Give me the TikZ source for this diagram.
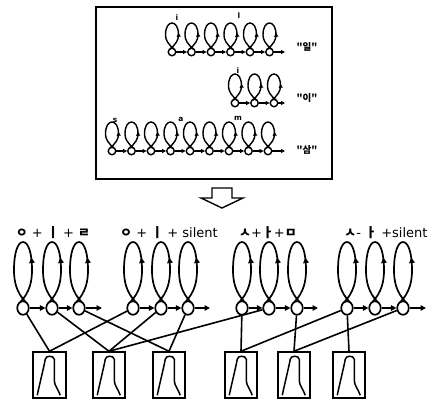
\documentclass[tikz,border=0pt]{standalone}
\usepackage{fontspec}
\setmainfont{DejaVu Sans}
\newfontfamily\kr{Noto Sans CJK KR}
\usetikzlibrary{arrows.meta,decorations.markings,shapes.geometric,calc}
\begin{document}
\begin{tikzpicture}[x=1pt,y=-1pt,
  ts/.style={draw, circle, minimum size=7.5pt, inner sep=0pt, line width=1.4pt},
  bs/.style={draw, ellipse, minimum width=11.5pt, minimum height=13.5pt, inner sep=0pt, line width=1.7pt},
  tarr/.style={line width=1.4pt, -{Triangle[length=4pt,width=4pt]}},
  barr/.style={line width=1.7pt, -{Triangle[length=5.5pt,width=5.5pt]}},
  tloop/.style={line width=1.4pt, postaction={decorate},
    decoration={markings, mark=at position 0.3 with {\arrow{Triangle[length=4pt,width=4pt]}}}},
  bloop/.style={line width=1.7pt, postaction={decorate},
    decoration={markings, mark=at position 0.36 with {\arrow{Triangle[length=5.5pt,width=5.5pt]}}}},
  wbox/.style={draw, line width=1.5pt, minimum height=46pt, inner sep=0pt},
  conn/.style={line width=1.6pt},
  tlab/.style={font=\kr\bfseries\fontsize{9.5}{10}\selectfont, inner sep=0pt},
  llab/.style={font=\bfseries\fontsize{7.5}{8}\selectfont, inner sep=0pt},
  glab/.style={font=\fontsize{13}{15}\selectfont, inner sep=0pt}
]
\useasboundingbox (0,0) rectangle (437,402);
\fill[white] (0,0) rectangle (437,402);

% top box
\node[draw, line width=1.4pt, minimum width=236pt, minimum height=172pt, inner sep=0pt] (topbox) at (214,93) {};

% top rows
\foreach \row/\n/\xo/\yy in {1/6/172/52, 2/3/235/103, 3/9/112/151} {
  \foreach \i in {1,...,\n} {
    \pgfmathsetmacro\cx{\xo+(\i-1)*19.5}
    \node[ts] (r\row s\i) at (\cx,\yy) {};
    \draw[tloop] (\cx-2,\yy-3) .. controls (\cx+4,\yy-8) and (\cx+6.5,\yy-12) .. (\cx+6.5,\yy-17)
      .. controls (\cx+6.5,\yy-25) and (\cx+3.5,\yy-29) .. (\cx,\yy-29)
      .. controls (\cx-3.5,\yy-29) and (\cx-6.5,\yy-25) .. (\cx-6.5,\yy-17)
      .. controls (\cx-6.5,\yy-12) and (\cx-4,\yy-8) .. (\cx+2,\yy-3);
  }
  \coordinate (r\row e) at (285,\yy);
}
\foreach \i [evaluate=\i as \j using int(\i+1)] in {1,...,5} \draw[tarr] (r1s\i) -- (r1s\j);
\draw[tarr] (r1s6) -- (r1e);
\foreach \i [evaluate=\i as \j using int(\i+1)] in {1,2} \draw[tarr] (r2s\i) -- (r2s\j);
\draw[tarr] (r2s3) -- (r2e);
\foreach \i [evaluate=\i as \j using int(\i+1)] in {1,...,8} \draw[tarr] (r3s\i) -- (r3s\j);
\draw[tarr] (r3s9) -- (r3e);

\node[tlab] (w1) at (307,47) {"일"};
\node[tlab] (w2) at (307,98) {"이"};
\node[tlab] (w3) at (307,150) {"삼"};

\node[llab] (li1) at (177,18) {i};
\node[llab] (ll1) at (239,16) {l};
\node[llab] (li2) at (238,71) {i};
\node[llab] (ls3) at (115,120) {s};
\node[llab] (la3) at (181,119) {a};
\node[llab] (lm3) at (238,118) {m};

% hollow down arrow
\draw[line width=1.4pt, line join=miter] (212,188) -- (232,188) -- (232,198) -- (243,198) -- (222,208) -- (201,198) -- (212,198) -- cycle;

% bottom groups
\foreach \g/\a/\b/\c/\e in {1/23/52/79/102, 2/133/161/188/210, 3/242/269/297/318, 4/347/375/403/426} {
  \foreach \k/\cx in {1/\a, 2/\b, 3/\c} {
    \node[bs] (g\g s\k) at (\cx,308) {};
    \draw[bloop] (\cx-3,302.5) .. controls (\cx+7,292) and (\cx+9,281) .. (\cx+9,270)
      .. controls (\cx+9,252) and (\cx+5,242) .. (\cx,242)
      .. controls (\cx-5,242) and (\cx-9,252) .. (\cx-9,270)
      .. controls (\cx-9,281) and (\cx-7,292) .. (\cx+3,302.5);
  }
  \coordinate (g\g e) at (\e,308);
  \draw[barr] (g\g s1) -- (g\g s2);
  \draw[barr] (g\g s2) -- (g\g s3);
  \draw[barr] (g\g s3) -- (g\g e);
}

\node[glab] (lab1) at (53,233) {{\kr\bfseries ㅇ} + {\kr\bfseries ㅣ} + {\kr\bfseries ㄹ}};
\node[glab] (lab2) at (169,233) {{\kr\bfseries ㅇ} + {\kr\bfseries ㅣ} + silent};
\node[glab] (lab3) at (268,233) {{\kr\bfseries ㅅ}+{\kr\bfseries ㅏ}+{\kr\bfseries ㅁ}};
\node[glab] (lab4) at (386,233) {{\kr\bfseries ㅅ}- {\kr\bfseries ㅏ} +silent};

% boxes
\foreach \bn/\bx/\bw in {1/49.5/33, 2/109/32, 3/169/32, 4/241/32, 5/294/32, 6/349/32} {
  \node[wbox, minimum width=\bw pt] (b\bn) at (\bx,375) {};
  \draw[line width=1.5pt, shift={(b\bn.north west)}] (5,44) .. controls (8,30) and (12,14) .. (13,8)
    .. controls (13.5,4) and (21.5,4) .. (22,8) -- (22,29) .. controls (22,34) and (26,38) .. (28,44);
}

% connections
\draw[conn] (g1s1) -- (b1.north);
\draw[conn] (g2s1) -- (b1.north);
\draw[conn] (g1s2) -- (b2.north);
\draw[conn] (g2s2) -- (b2.north);
\draw[conn] (g3s2) -- (b2.north);
\draw[conn] (g1s3) -- (b3.north);
\draw[conn] (g2s3) -- (b3.north);
\draw[conn] (g3s1) -- (b4.north);
\draw[conn] (g4s1) -- (b4.north);
\draw[conn] (g3s3) -- (b5.north);
\draw[conn] (g4s3) -- (b5.north);
\draw[conn] (g4s1) -- (b6.north);
\end{tikzpicture}
\end{document}
